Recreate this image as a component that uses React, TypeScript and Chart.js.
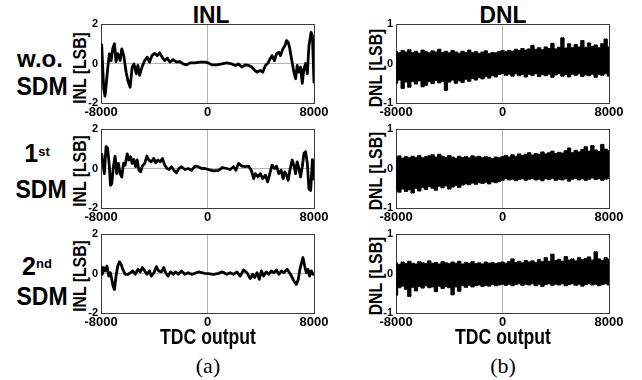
import React, { useEffect, useRef } from 'react';
import Chart from 'chart.js/auto';

// ---------- data ----------
const X_TICKS = [-8000, 0, 8000];
const INL_Y_TICKS = [-2, 0, 2];
const DNL_Y_TICKS = [-1, 0, 1];

const INL_WO_X = [-7950,-7800,-7700,-7600,-7500,-7370,-7240,-7120,-6990,-6870,-6740,-6560,-6440,-6290,-6110,-5980,-5810,-5660,-5530,-5350,-5230,-5100,-4920,-4720,-4520,-4350,-4170,-3970,-3770,-3590,-3410,-3210,-3010,-2830,-2580,-2330,-2080,-1830,-1570,-1320,-940,-570,-190,60,320,690,1070,1450,1830,2080,2330,2580,2830,3090,3340,3540,3720,3970,4150,4350,4550,4730,4850,5030,5180,5360,5480,5660,5810,5940,6060,6160,6310,6490,6620,6740,6870,6990,7120,7240,7370,7500,7620,7780,7880,8000];
const INL_WO_Y = [1.0,-1.25,-1.65,-1.0,-0.27,0.49,0.15,0.75,1.0,0.1,0.5,0.15,0.74,0.4,-0.44,-0.86,-1.2,-0.18,-0.02,-0.52,-0.1,-0.6,-0.18,0.15,0.32,0.07,0.4,0.52,0.4,0.54,0.32,0.15,0.27,0.07,0.2,0.07,0.1,-0.02,-0.07,0.03,0.03,0.07,0.07,0.03,-0.07,-0.07,-0.02,0.03,-0.02,-0.1,-0.02,-0.18,-0.07,-0.1,-0.18,-0.35,-0.44,-0.35,-0.44,-0.1,0.03,0.27,0.4,0.15,0.49,0.57,0.4,0.74,0.9,1.16,1.08,0.82,0.24,-0.44,-0.77,-0.1,-0.44,-0.18,-1.0,-0.27,0.0,-0.52,0.9,1.58,1.4,-1.0];

const INL_1ST_X = [-7950,-7850,-7750,-7620,-7500,-7370,-7290,-7190,-7070,-6940,-6820,-6690,-6560,-6440,-6310,-6190,-6030,-5910,-5780,-5660,-5530,-5400,-5280,-5150,-5030,-4900,-4720,-4550,-4400,-4220,-4040,-3890,-3720,-3540,-3390,-3210,-3040,-2880,-2710,-2530,-2330,-2150,-1950,-1700,-1450,-1200,-940,-690,-440,-190,60,440,820,1120,1450,1700,1950,2130,2330,2580,2840,3090,3290,3470,3590,3790,3970,4150,4350,4520,4680,4850,5030,5180,5360,5530,5680,5810,5940,6060,6190,6360,6490,6620,6740,6870,6990,7120,7250,7370,7500,7620,7750,7880,8000];
const INL_1ST_Y = [0.77,0.26,-0.26,1.11,1.03,0.09,-0.85,-0.77,0.09,0.63,-0.26,0.26,-0.26,-0.43,0.26,0.17,0.74,0.43,0.6,0.26,0.46,0.09,0.43,-0.09,-0.17,0.12,0.26,0.63,0.43,0.34,0.51,0.29,0.43,0.34,0.51,0.17,0.0,-0.05,0.09,-0.09,-0.22,0.0,0.09,-0.05,0.0,-0.09,0.12,0.09,0.0,0.0,-0.05,-0.12,-0.09,0.05,0.0,-0.05,0.09,-0.09,0.26,0.12,0.09,0.12,-0.09,-0.51,-0.26,-0.43,-0.26,-0.51,-0.34,-0.68,-0.26,0.17,0.0,0.12,-0.26,-0.09,-0.51,-0.17,-0.34,-0.6,-0.09,0.43,0.17,-0.26,0.34,0.0,-0.43,0.09,0.77,0.85,0.26,-1.03,-1.11,0.45,-0.6];

const INL_2ND_X = [-8000,-7900,-7800,-7700,-7550,-7420,-7290,-7190,-7090,-6990,-6870,-6740,-6610,-6490,-6360,-6190,-5980,-5780,-5610,-5430,-5230,-5050,-4900,-4720,-4550,-4350,-4220,-4020,-3840,-3670,-3460,-3290,-3140,-2960,-2780,-2580,-2410,-2200,-1950,-1700,-1450,-1200,-940,-690,-440,-190,60,440,820,1120,1450,1700,1950,2210,2460,2710,2960,3210,3390,3540,3720,3890,4050,4220,4400,4600,4800,4980,5180,5360,5560,5730,5990,6160,6310,6490,6670,6820,6940,7070,7170,7300,7420,7550,7670,7800,7930,8000];
const INL_2ND_Y = [0.38,-0.04,0.3,0.13,0.38,-0.13,0.04,-0.3,-0.64,-0.81,-0.13,0.38,0.59,0.47,0.21,-0.04,-0.04,0.04,0.13,-0.04,0.21,0.08,0.3,0.13,-0.04,0.13,-0.13,0.04,0.35,0.13,0.08,0.3,0.04,-0.13,0.08,-0.04,0.08,-0.04,0.13,-0.04,0.04,-0.04,0.01,0.08,0.04,0.01,-0.01,-0.04,0.01,0.08,-0.04,0.04,-0.04,0.08,-0.13,0.18,0.04,-0.26,-0.04,-0.21,0.04,-0.3,0.13,-0.13,0.08,-0.04,0.13,0.04,0.18,-0.04,0.13,0.04,0.21,0.04,-0.13,-0.38,-0.55,-0.3,0.21,0.55,0.81,0.38,0.04,0.21,-0.13,0.13,-0.04,0.04];

const DNL_X = [-8000,-7750,-7500,-7250,-7000,-6750,-6500,-6250,-6000,-5750,-5500,-5250,-5000,-4750,-4500,-4250,-4000,-3750,-3500,-3250,-3000,-2750,-2500,-2250,-2000,-1750,-1500,-1250,-1000,-750,-500,-250,0,250,500,750,1000,1250,1500,1750,2000,2250,2500,2750,3000,3250,3500,3750,4000,4250,4500,4750,5000,5250,5500,5750,6000,6250,6500,6750,7000,7250,7500,7750,8000];

const DNL_WO_HI = [0.30,0.27,0.33,0.29,0.35,0.28,0.31,0.26,0.34,0.30,0.27,0.32,0.29,0.36,0.28,0.31,0.27,0.33,0.29,0.26,0.31,0.28,0.34,0.27,0.30,0.26,0.29,0.32,0.25,0.28,0.27,0.30,0.33,0.30,0.33,0.31,0.36,0.33,0.38,0.34,0.37,0.46,0.36,0.40,0.35,0.42,0.38,0.51,0.37,0.41,0.65,0.39,0.50,0.40,0.48,0.42,0.58,0.41,0.52,0.43,0.47,0.40,0.50,0.62,0.42];
const DNL_WO_LO = [-0.50,-0.42,-0.63,-0.47,-0.60,-0.45,-0.52,-0.44,-0.59,-0.55,-0.46,-0.51,-0.43,-0.49,-0.45,-0.68,-0.47,-0.42,-0.50,-0.44,-0.48,-0.40,-0.45,-0.38,-0.42,-0.36,-0.39,-0.33,-0.37,-0.31,-0.34,-0.28,-0.25,-0.30,-0.27,-0.32,-0.26,-0.31,-0.28,-0.34,-0.27,-0.30,-0.26,-0.33,-0.28,-0.31,-0.27,-0.35,-0.29,-0.26,-0.32,-0.28,-0.34,-0.27,-0.30,-0.26,-0.33,-0.29,-0.31,-0.27,-0.35,-0.28,-0.30,-0.26,-0.32];

const DNL_1ST_HI = [0.28,0.32,0.26,0.30,0.27,0.31,0.28,0.33,0.27,0.30,0.32,0.35,0.29,0.36,0.31,0.28,0.33,0.29,0.26,0.31,0.28,0.30,0.27,0.32,0.29,0.31,0.27,0.30,0.28,0.25,0.29,0.27,0.30,0.33,0.29,0.35,0.31,0.37,0.33,0.36,0.40,0.34,0.38,0.36,0.42,0.37,0.40,0.44,0.38,0.41,0.39,0.45,0.52,0.40,0.46,0.42,0.48,0.55,0.44,0.58,0.47,0.43,0.61,0.49,0.45];
const DNL_1ST_LO = [-0.55,-0.60,-0.52,-0.58,-0.54,-0.62,-0.50,-0.57,-0.48,-0.53,-0.46,-0.50,-0.55,-0.45,-0.49,-0.44,-0.52,-0.47,-0.43,-0.48,-0.42,-0.39,-0.41,-0.37,-0.40,-0.36,-0.38,-0.35,-0.39,-0.34,-0.36,-0.33,-0.30,-0.26,-0.29,-0.27,-0.31,-0.28,-0.26,-0.30,-0.27,-0.25,-0.29,-0.27,-0.31,-0.26,-0.28,-0.25,-0.30,-0.27,-0.29,-0.26,-0.32,-0.27,-0.25,-0.29,-0.26,-0.30,-0.27,-0.24,-0.28,-0.26,-0.30,-0.27,-0.25];

const DNL_2ND_HI = [0.27,0.23,0.29,0.25,0.31,0.26,0.24,0.30,0.27,0.25,0.32,0.26,0.28,0.24,0.30,0.27,0.25,0.29,0.26,0.31,0.24,0.28,0.26,0.30,0.25,0.27,0.24,0.29,0.26,0.28,0.25,0.27,0.29,0.26,0.30,0.37,0.28,0.31,0.27,0.33,0.29,0.32,0.28,0.35,0.30,0.40,0.31,0.49,0.33,0.36,0.31,0.43,0.34,0.37,0.32,0.40,0.35,0.38,0.42,0.34,0.55,0.37,0.33,0.40,0.36];
const DNL_2ND_LO = [-0.55,-0.36,-0.32,-0.40,-0.58,-0.35,-0.44,-0.33,-0.37,-0.31,-0.36,-0.34,-0.46,-0.32,-0.38,-0.33,-0.36,-0.54,-0.34,-0.45,-0.31,-0.35,-0.30,-0.34,-0.31,-0.29,-0.33,-0.30,-0.32,-0.28,-0.31,-0.29,-0.27,-0.30,-0.27,-0.31,-0.28,-0.26,-0.30,-0.27,-0.29,-0.26,-0.31,-0.27,-0.33,-0.28,-0.26,-0.30,-0.27,-0.29,-0.26,-0.31,-0.28,-0.26,-0.30,-0.27,-0.32,-0.28,-0.26,-0.29,-0.27,-0.31,-0.28,-0.26,-0.29];

// ---------- layout ----------
const FONT = '"Liberation Sans", Arial, sans-serif';
const SERIF = '"Liberation Serif", "Times New Roman", serif';
const FRAME = '#3c3c3c';
const ZERO = '#b4b4b4';
const PW = 213, PH = 79;
const PAD_L = 40, PAD_T = 10, PAD_R = 25, PAD_B = 20;
const CW = PW + PAD_L + PAD_R, CH = PH + PAD_T + PAD_B;
const COL_LEFT = [101, 396];
const ROW_TOP = [24, 129, 234];

function pairs(xs: number[], ys: number[]) {
  return xs.map((x, i) => ({ x, y: ys[i] }));
}

function makeConfig(kind: 'inl' | 'dnl', series: number[][]) {
  const yTicks = kind === 'inl' ? INL_Y_TICKS : DNL_Y_TICKS;
  const gridColor = (ctx: any) => (ctx.tick && ctx.tick.value === 0 ? ZERO : FRAME);
  const datasets: any[] =
    kind === 'inl'
      ? [{ data: pairs(series[0], series[1]), borderColor: '#000', borderWidth: 2.8, pointRadius: 0, fill: false, tension: 0, borderJoinStyle: 'round' }]
      : [
          { data: pairs(DNL_X, series[0]), borderColor: '#000', backgroundColor: '#000', borderWidth: 1, pointRadius: 0, fill: '+1', tension: 0, stepped: 'middle' },
          { data: pairs(DNL_X, series[1]), borderColor: '#000', borderWidth: 1, pointRadius: 0, fill: false, tension: 0, stepped: 'middle' },
        ];
  return {
    type: 'line',
    data: { datasets },
    options: {
      responsive: false,
      animation: false,
      devicePixelRatio: 1,
      layout: { autoPadding: false, padding: { left: 0, top: PAD_T, right: PAD_R, bottom: 0 } },
      plugins: { legend: { display: false }, tooltip: { enabled: false } },
      scales: {
        x: {
          type: 'linear',
          min: X_TICKS[0],
          max: X_TICKS[X_TICKS.length - 1],
          afterBuildTicks: (s: any) => { s.ticks = X_TICKS.map((v) => ({ value: v })); },
          afterFit: (s: any) => { s.height = PAD_B; },
          grid: { color: gridColor, lineWidth: 1, drawTicks: false },
          border: { display: true, color: FRAME, width: 1 },
          ticks: { color: '#000', font: { family: FONT, size: 13, weight: 'bold' }, padding: 2, maxRotation: 0, autoSkip: false, callback: (v: any) => String(v) },
        },
        y: {
          type: 'linear',
          min: yTicks[0],
          max: yTicks[yTicks.length - 1],
          afterBuildTicks: (s: any) => { s.ticks = yTicks.map((v) => ({ value: v })); },
          afterFit: (s: any) => { s.width = PAD_L; },
          grid: { color: gridColor, lineWidth: 1, drawTicks: false },
          border: { display: true, color: FRAME, width: 1 },
          ticks: { color: '#000', font: { family: FONT, size: 11, weight: 'bold' }, padding: 3, autoSkip: false, callback: (v: any) => String(v) },
        },
      },
    },
  };
}

function Panel({ col, row, kind, series }: { col: number; row: number; kind: 'inl' | 'dnl'; series: number[][] }) {
  const ref = useRef<HTMLCanvasElement>(null);
  useEffect(() => {
    const chart = new Chart(ref.current as HTMLCanvasElement, makeConfig(kind, series) as any);
    return () => chart.destroy();
  }, []);
  return (
    <canvas
      ref={ref}
      width={CW}
      height={CH}
      style={{ position: 'absolute', left: COL_LEFT[col] - PAD_L, top: ROW_TOP[row] - PAD_T, width: CW, height: CH }}
    />
  );
}

function Txt({ cx, base, size, children, serif = false, sx = 1, weight = 'bold' }: any) {
  const asc = serif ? 0.8375 : 0.8465;
  return (
    <div
      style={{
        position: 'absolute',
        left: cx,
        top: base - asc * size,
        fontFamily: serif ? SERIF : FONT,
        fontSize: size,
        fontWeight: weight,
        lineHeight: `${size}px`,
        whiteSpace: 'nowrap',
        color: '#000',
        transform: `translateX(-50%) scaleX(${sx})`,
      }}
    >
      {children}
    </div>
  );
}

function YTitle({ cx, cy, text }: { cx: number; cy: number; text: string }) {
  return (
    <div
      style={{
        position: 'absolute',
        left: cx,
        top: cy,
        fontFamily: FONT,
        fontWeight: 'bold',
        fontSize: 19,
        lineHeight: '19px',
        whiteSpace: 'nowrap',
        color: '#000',
        transform: 'translate(-50%, -50%) rotate(-90deg) scaleX(0.83)',
      }}
    >
      {text}
    </div>
  );
}

const Sup = ({ children, up }: any) => (
  <span style={{ fontSize: 13, position: 'relative', top: -up }}>{children}</span>
);

export default function App() {
  const yTitleRows = [68, 171, 276];
  return (
    <div style={{ position: 'fixed', left: 0, top: 0, width: 642, height: 380, background: '#fff', overflow: 'hidden' }}>
      {/* column titles */}
      <Txt cx={211} base={23} size={24} sx={0.95}>INL</Txt>
      <Txt cx={503} base={23} size={24} sx={0.95}>DNL</Txt>

      {/* row labels */}
      <Txt cx={40} base={67} size={24}>w.o.</Txt>
      <Txt cx={42} base={95} size={25} sx={0.92}>SDM</Txt>
      <Txt cx={37} base={162} size={25}>1<Sup up={6}>st</Sup></Txt>
      <Txt cx={41} base={198} size={25} sx={0.92}>SDM</Txt>
      <Txt cx={37} base={275} size={25}>2<Sup up={7}>nd</Sup></Txt>
      <Txt cx={42} base={305} size={25} sx={0.92}>SDM</Txt>

      {/* y-axis titles */}
      {yTitleRows.map((cy, i) => <YTitle key={'i' + i} cx={79} cy={cy} text="INL [LSB]" />)}
      {yTitleRows.map((cy, i) => <YTitle key={'d' + i} cx={375} cy={cy} text="DNL [LSB]" />)}

      <Panel col={0} row={0} kind="inl" series={[INL_WO_X, INL_WO_Y]} />
      <Panel col={0} row={1} kind="inl" series={[INL_1ST_X, INL_1ST_Y]} />
      <Panel col={0} row={2} kind="inl" series={[INL_2ND_X, INL_2ND_Y]} />
      <Panel col={1} row={0} kind="dnl" series={[DNL_WO_HI, DNL_WO_LO]} />
      <Panel col={1} row={1} kind="dnl" series={[DNL_1ST_HI, DNL_1ST_LO]} />
      <Panel col={1} row={2} kind="dnl" series={[DNL_2ND_HI, DNL_2ND_LO]} />

      {/* x-axis titles and captions */}
      <Txt cx={208} base={345} size={22} sx={0.8}>TDC output</Txt>
      <Txt cx={503} base={345} size={22} sx={0.8}>TDC output</Txt>
      <Txt cx={208} base={373} size={22} serif weight="normal">(a)</Txt>
      <Txt cx={503} base={373} size={22} serif weight="normal">(b)</Txt>
    </div>
  );
}
